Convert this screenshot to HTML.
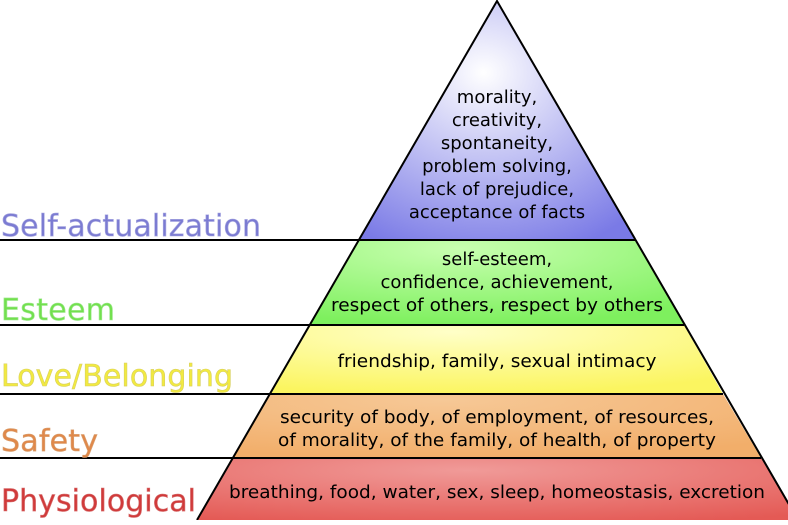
<!DOCTYPE html>
<html><head><meta charset="utf-8"><style>html,body{margin:0;padding:0;background:#fff}</style></head>
<body>
<svg width="788" height="520" viewBox="0 0 788 520" xmlns="http://www.w3.org/2000/svg" font-family="DejaVu Sans, sans-serif">
<defs>
<radialGradient id="g1" cx="0.45" cy="0.3" r="0.8"><stop offset="0" stop-color="#ffffff"/><stop offset="1" stop-color="#7a7ae6"/></radialGradient>
<radialGradient id="g2" cx="0.4" cy="0.1" r="0.9"><stop offset="0" stop-color="#c8ffb0"/><stop offset="1" stop-color="#7ef05e"/></radialGradient>
<radialGradient id="g3" cx="0.4" cy="0.1" r="0.9"><stop offset="0" stop-color="#ffffc8"/><stop offset="1" stop-color="#fbf560"/></radialGradient>
<radialGradient id="g4" cx="0.4" cy="0.1" r="0.9"><stop offset="0" stop-color="#f6c896"/><stop offset="1" stop-color="#f2ae6a"/></radialGradient>
<radialGradient id="g5" cx="0.45" cy="0.2" r="0.9"><stop offset="0" stop-color="#f09a98"/><stop offset="1" stop-color="#e45a55"/></radialGradient>
</defs>
<polygon points="497,1 636,240 359,240" fill="url(#g1)"/>
<polygon points="359,240 636,240 684,325 310,325" fill="url(#g2)"/>
<polygon points="310,325 684,325 723,394 271,394" fill="url(#g3)"/>
<polygon points="271,394 723,394 761,458 233,458" fill="url(#g4)"/>
<polygon points="233,458 761,458 798,520 197,520" fill="url(#g5)"/>
<g stroke="#000" stroke-width="2" fill="none">
<polyline points="197,520 497,1 798,520"/>
<line x1="0" y1="240" x2="636" y2="240"/>
<line x1="0" y1="325" x2="684" y2="325"/>
<line x1="0" y1="394" x2="723" y2="394"/>
<line x1="0" y1="458" x2="761" y2="458"/>
</g>
<g font-size="30" stroke-width="0.6">
<text x="1" y="236" fill="#7b7bd2" stroke="#a8a8e0" textLength="260">Self-actualization</text>
<text x="1" y="320" fill="#72e04e" stroke="#a0e890" textLength="114">Esteem</text>
<text x="1" y="386" fill="#f2ea40" stroke="#d8d060" textLength="232">Love/Belonging</text>
<text x="1" y="451" fill="#e0884a" stroke="#d8a070" textLength="97">Safety</text>
<text x="1" y="511" fill="#d03a3a" stroke="#d87070" textLength="195">Physiological</text>
</g>
<g font-size="18" fill="#000" text-anchor="middle">
<text x="497" y="103">morality,</text>
<text x="497" y="126">creativity,</text>
<text x="497" y="149">spontaneity,</text>
<text x="497" y="172">problem solving,</text>
<text x="497" y="195">lack of prejudice,</text>
<text x="497" y="218">acceptance of facts</text>
<text x="497" y="265">self-esteem,</text>
<text x="497" y="288">confidence, achievement,</text>
<text x="497" y="311" textLength="332" lengthAdjust="spacingAndGlyphs">respect of others, respect by others</text>
<text x="497" y="367" textLength="319" lengthAdjust="spacingAndGlyphs">friendship, family, sexual intimacy</text>
<text x="497" y="423" textLength="434" lengthAdjust="spacingAndGlyphs">security of body, of employment, of resources,</text>
<text x="497" y="446" textLength="438" lengthAdjust="spacingAndGlyphs">of morality, of the family, of health, of property</text>
<text x="497" y="498" textLength="536" lengthAdjust="spacingAndGlyphs">breathing, food, water, sex, sleep, homeostasis, excretion</text>
</g>
</svg>
</body></html>
